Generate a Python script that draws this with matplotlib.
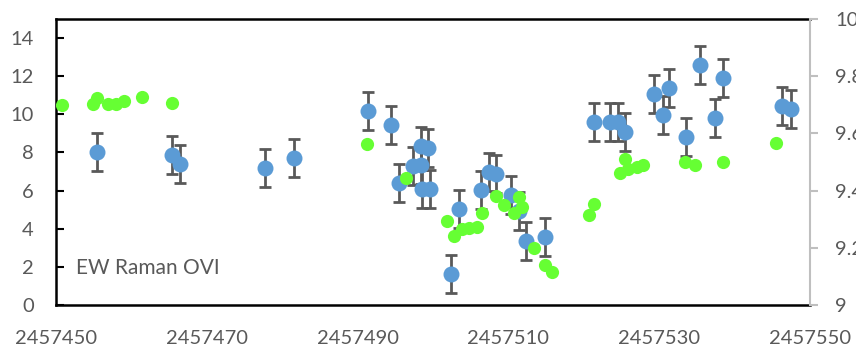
import matplotlib
matplotlib.use("Agg")
import matplotlib.pyplot as plt
from matplotlib.ticker import FuncFormatter

plt.rcParams['font.family'] = ['Lato', 'DejaVu Sans']

# EW Raman OVI (left axis), with error bars
jd_ew = [2457455.4, 2457465.4, 2457466.4, 2457477.7, 2457481.5, 2457491.4,
         2457494.4, 2457495.45, 2457497.4, 2457498.4, 2457498.4, 2457499.4,
         2457498.6, 2457499.6, 2457502.4, 2457503.5, 2457506.4, 2457507.4,
         2457508.4, 2457510.3, 2457511.45, 2457512.4, 2457514.8, 2457521.4,
         2457523.5, 2457524.6, 2457525.4, 2457529.35, 2457530.5, 2457531.3,
         2457533.5, 2457535.4, 2457537.4, 2457538.5, 2457546.3, 2457547.5]
ew = [8.04, 7.87, 7.39, 7.17, 7.69, 10.19,
      9.44, 6.38, 7.31, 7.36, 8.35, 8.22,
      6.10, 6.10, 1.63, 5.02, 6.03, 6.99,
      6.87, 5.77, 4.92, 3.34, 3.57, 9.6,
      9.58, 9.58, 9.09, 11.06, 9.96, 11.36,
      8.79, 12.59, 9.79, 11.89, 10.44, 10.26]
ew_err = [1.0] * len(ew)

# second series (right axis)
jd_mag = [2457450.84, 2457454.87, 2457455.4, 2457456.94, 2457457.96, 2457459.02,
          2457461.45, 2457465.4, 2457491.3, 2457496.4, 2457501.9, 2457502.8,
          2457503.8, 2457504.8, 2457505.8, 2457506.5, 2457508.4, 2457509.4,
          2457510.8, 2457511.45, 2457511.8, 2457513.4, 2457514.8, 2457515.8,
          2457520.7, 2457521.35, 2457524.8, 2457525.45, 2457525.9, 2457527.0,
          2457527.9, 2457533.4, 2457534.75, 2457538.4, 2457545.5]
mag = [9.699, 9.702, 9.723, 9.702, 9.702, 9.714,
       9.728, 9.707, 9.563, 9.443, 9.294, 9.241,
       9.265, 9.270, 9.274, 9.321, 9.382, 9.350,
       9.323, 9.377, 9.344, 9.198, 9.140, 9.117,
       9.315, 9.353, 9.460, 9.509, 9.474, 9.484,
       9.490, 9.501, 9.490, 9.499, 9.565]

x_ticks = [2457450, 2457470, 2457490, 2457510, 2457530, 2457550]
left_ticks = [0, 2, 4, 6, 8, 10, 12, 14]
right_ticks = [9, 9.2, 9.4, 9.6, 9.8, 10]

gray = '#595959'

fig = plt.figure(figsize=(8.56, 3.47), dpi=100)
ax = fig.add_axes([56/856, 1 - 305/347, (810 - 56)/856, (305 - 19)/347])

ax.errorbar(jd_ew, ew, yerr=ew_err, fmt='o', color='#5B9BD5', ms=11.5,
            mec='none', ecolor=gray, elinewidth=2, capsize=4.5, capthick=2)

ax.set_xlim(2457450, 2457550)
ax.set_ylim(0, 15)
ax.set_xticks(x_ticks)
ax.set_yticks(left_ticks)
ax.xaxis.set_major_formatter(FuncFormatter(lambda v, p: '%d' % v))
ax.tick_params(axis='x', length=0, pad=18, labelsize=14.5, labelcolor=gray)
ax.tick_params(axis='y', direction='in', length=6, width=1.5, color='black',
               pad=16, labelsize=14.5, labelcolor=gray)
for s in ['left', 'top', 'bottom']:
    ax.spines[s].set_linewidth(1.8)
    ax.spines[s].set_color('black')
ax.spines['right'].set_visible(False)

ax.text(2457452.7, 1.95, 'EW Raman OVI', fontsize=15, color=gray, va='center')

ax2 = ax.twinx()
ax2.plot(jd_mag, mag, 'o', color='#66FF33', ms=9.5, mec='none')
ax2.set_ylim(9, 10)
ax2.set_yticks(right_ticks)
ax2.yaxis.set_major_formatter(FuncFormatter(lambda v, p: '%g' % v))
ax2.tick_params(axis='y', direction='out', length=6, width=1.5, color='#BFBFBF',
                pad=12, labelsize=14.5, labelcolor=gray)
ax2.spines['right'].set_color('#BFBFBF')
ax2.spines['right'].set_linewidth(1.5)
for s in ['left', 'top', 'bottom']:
    ax2.spines[s].set_visible(False)

fig.savefig('out.png', dpi=100)
